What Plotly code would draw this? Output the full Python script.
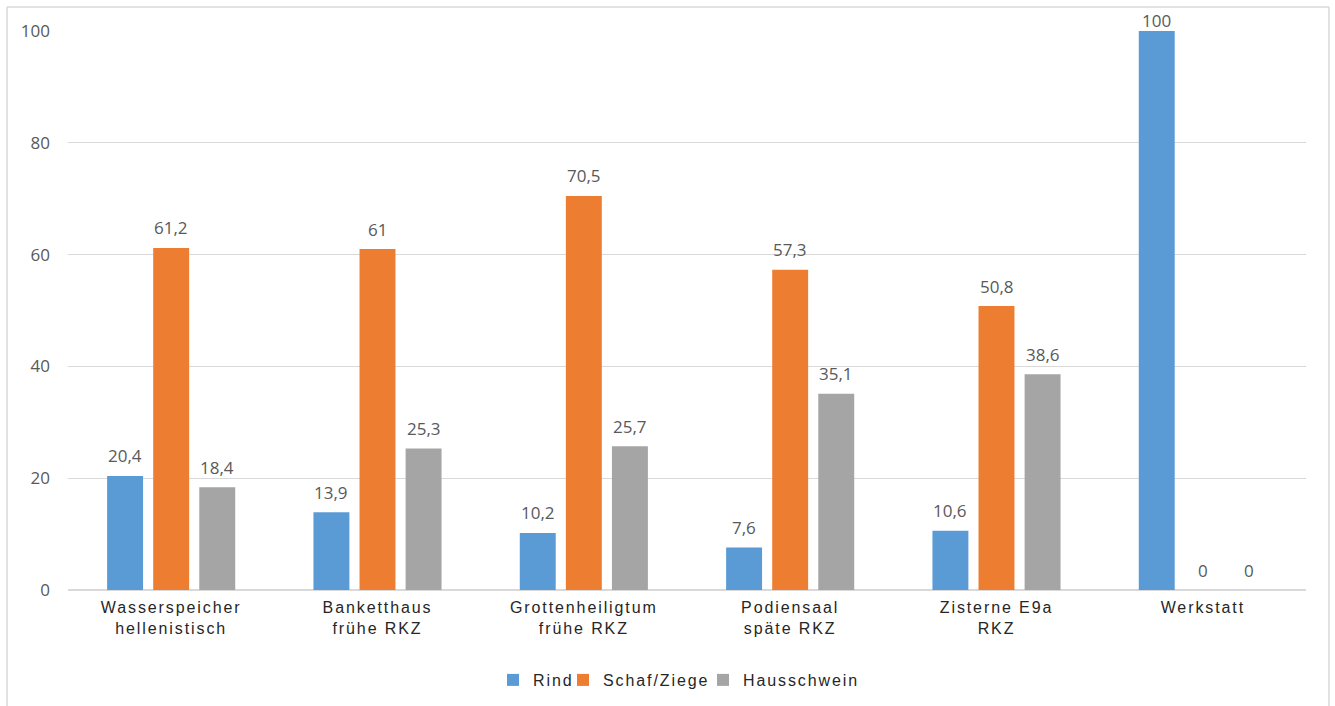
import plotly.graph_objects as go

categories = ["Wasserspeicher<br>hellenistisch", "Banketthaus<br>frühe RKZ", "Grottenheiligtum<br>frühe RKZ",
              "Podiensaal<br>späte RKZ", "Zisterne E9a<br>RKZ", "Werkstatt"]
series_names = ["Rind", "Schaf/Ziege", "Hausschwein"]
rind = [20.4, 13.9, 10.2, 7.6, 10.6, 100]
schaf = [61.2, 61, 70.5, 57.3, 50.8, 0]
schwein = [18.4, 25.3, 25.7, 35.1, 38.6, 0]
colors = ["#5B9BD5", "#ED7D31", "#A5A5A5"]
y_ticks = [0, 20, 40, 60, 80, 100]

W, H = 1335, 706
ML, MR, MT, MB = 68, 29, 31, 116
BARGAP, GROUPGAP = 0.33, 0.22
plot_w = W - ML - MR
plot_h = H - MT - MB
legend_left_px = [493, 563, 703]
legend_names = ["legend", "legend2", "legend3"]


def fmt(v):
    return ("%g" % v).replace(".", ",")


def spaced(s, sp=1.9):
    return "<br>".join('<span style="letter-spacing:%spx">%s</span>' % (sp, part) for part in s.split("<br>"))


fig = go.Figure()
all_series = [rind, schaf, schwein]
for name, vals, col, lg in zip(series_names, all_series, colors, legend_names):
    fig.add_trace(go.Bar(
        x=categories, y=vals, name=spaced(name), legend=lg,
        marker=dict(color=col, line=dict(width=0)),
        cliponaxis=False,
    ))

# data labels as annotations above each bar
slot = plot_w / len(categories) * (1 - BARGAP) / len(series_names)
annotations = []
for si, vals in enumerate(all_series):
    xs = (si - 1) * slot
    for c, v in zip(categories, vals):
        y_px = MT + plot_h * (1 - v / 100.0)
        center = max(y_px - 20, 20)
        annotations.append(dict(
            x=c, y=v, xref="x", yref="y", text=fmt(v), showarrow=False,
            xshift=xs, yshift=y_px - center, yanchor="middle", xanchor="center",
            font=dict(family="Open Sans", size=17, color="#595959"),
        ))

legend_font = dict(family="Liberation Sans", size=16, color="#262626")
legends = {}
for lg, lx in zip(legend_names, legend_left_px):
    legends[lg] = dict(orientation="h", x=(lx - ML) / plot_w, xanchor="left",
                       yref="container", y=1 - 663 / H, yanchor="top",
                       font=legend_font, itemwidth=30, bgcolor="rgba(0,0,0,0)")

fig.update_layout(
    width=W, height=H,
    margin=dict(l=ML, r=MR, t=MT, b=MB, autoexpand=False),
    paper_bgcolor="white", plot_bgcolor="white",
    barmode="group", bargap=BARGAP, bargroupgap=GROUPGAP,
    showlegend=True,
    annotations=annotations,
    xaxis=dict(showgrid=False, showline=True, linecolor="#D9D9D9", linewidth=1,
               tickvals=categories, ticktext=[spaced(c) for c in categories],
               tickfont=dict(family="Liberation Sans", size=16, color="#262626"),
               ticks="", ticklabelstandoff=3, automargin=False),
    yaxis=dict(range=[0, 100], tickvals=y_ticks, showgrid=True, gridcolor="#D9D9D9",
               zeroline=True, zerolinecolor="#D9D9D9", showline=False,
               tickfont=dict(family="Open Sans", size=17, color="#595959"),
               ticks="", ticklabelstandoff=17, automargin=False),
    **legends,
)

# chart border (left, top, right)
x0 = (7 - ML) / plot_w
x1 = (1329 - ML) / plot_w
yt = (H - MB - 7) / plot_h
yb = (H - MB - 720) / plot_h
for (ax0, ay0, ax1, ay1) in [(x0, yb, x0, yt), (x0, yt, x1, yt), (x1, yt, x1, yb)]:
    fig.add_shape(type="line", xref="paper", yref="paper", x0=ax0, y0=ay0, x1=ax1, y1=ay1,
                  line=dict(color="#D9D9D9", width=1.5), layer="below")

fig.write_html("out.html")
